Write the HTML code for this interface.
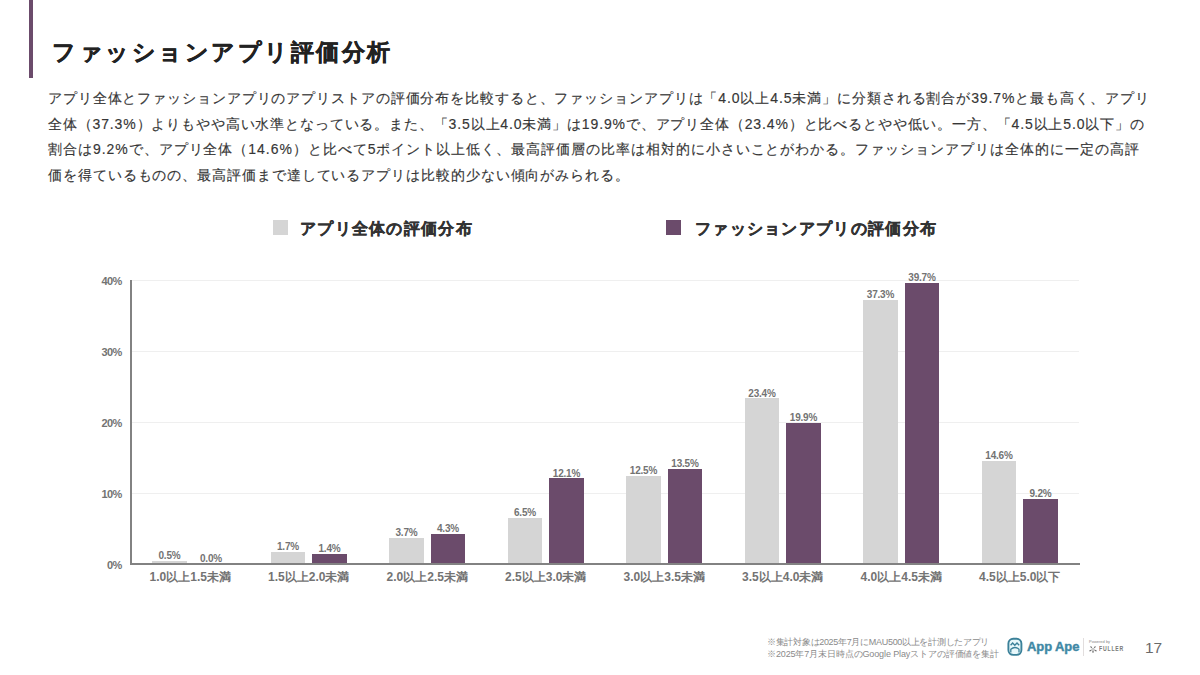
<!DOCTYPE html>
<html lang="ja"><head><meta charset="utf-8"><title>ファッションアプリ評価分析</title>
<style>
html,body{margin:0;padding:0;background:#fff;}
body{width:1200px;height:675px;position:relative;overflow:hidden;font-family:"Liberation Sans",sans-serif;color:#333;}
.abs{position:absolute;}
#accent{position:absolute;left:29px;top:0;width:3.5px;height:77.5px;background:#6b4b6b;}
#title{position:absolute;left:52px;top:35px;font-size:23px;font-weight:bold;letter-spacing:2.5px;color:#222;-webkit-text-stroke:0.45px #222;white-space:nowrap;line-height:34px;}
.pl{position:absolute;left:48px;font-size:14px;line-height:26px;white-space:nowrap;color:#363636;-webkit-text-stroke:0.15px #363636;}
.leg{position:absolute;top:217px;font-size:16px;font-weight:bold;color:#333;white-space:nowrap;line-height:24px;letter-spacing:1.3px;-webkit-text-stroke:0.35px #333;}
.sq{position:absolute;top:220px;width:15px;height:15px;}
.grid{position:absolute;left:132px;width:947px;height:1px;background:#efefef;}
#yaxis{position:absolute;left:130px;top:280px;width:2px;height:285px;background:#828282;}
#xaxis{position:absolute;left:130px;top:563px;width:949.5px;height:2px;background:#828282;}
.ylab{position:absolute;left:80px;width:41.8px;text-align:right;font-size:11px;letter-spacing:-0.6px;font-weight:bold;color:#737373;line-height:14px;}
.bar{position:absolute;width:34.5px;}
.bar.g{background:#d5d5d5;}
.bar.p{background:#6b4b6b;}
.vlab{position:absolute;width:60px;text-align:center;font-size:10px;letter-spacing:-0.2px;font-weight:bold;color:#737373;line-height:12px;}
.xlab{position:absolute;top:569px;width:120px;text-align:center;font-size:12px;font-weight:bold;color:#737373;line-height:16px;white-space:nowrap;}
.foot{position:absolute;left:767px;font-size:9px;color:#8a8a8a;white-space:nowrap;line-height:12px;}
#pnum{position:absolute;left:1145px;top:638px;font-size:15.5px;color:#6a6a6a;line-height:20px;}
</style></head><body>
<div id="accent"></div>
<div id="title">ファッションアプリ評価分析</div>
<div class="pl" style="top:84.8px;letter-spacing:0.896px">アプリ全体とファッションアプリのアプリストアの評価分布を比較すると、ファッションアプリは「4.0以上4.5未満」に分類される割合が39.7%と最も高く、アプリ</div>
<div class="pl" style="top:110.5px;letter-spacing:0.859px">全体（37.3%）よりもやや高い水準となっている。また、「3.5以上4.0未満」は19.9%で、アプリ全体（23.4%）と比べるとやや低い。一方、「4.5以上5.0以下」の</div>
<div class="pl" style="top:136.2px;letter-spacing:0.963px">割合は9.2%で、アプリ全体（14.6%）と比べて5ポイント以上低く、最高評価層の比率は相対的に小さいことがわかる。ファッションアプリは全体的に一定の高評</div>
<div class="pl" style="top:161.9px;letter-spacing:0.921px">価を得ているものの、最高評価まで達しているアプリは比較的少ない傾向がみられる。</div>
<div class="sq" style="left:273px;background:#d5d5d5"></div>
<div class="leg" style="left:300px">アプリ全体の評価分布</div>
<div class="sq" style="left:666px;background:#6b4b6b"></div>
<div class="leg" style="left:695px">ファッションアプリの評価分布</div>
<div class="grid" style="top:492.85px"></div>
<div class="grid" style="top:422.00px"></div>
<div class="grid" style="top:351.15px"></div>
<div class="grid" style="top:280.30px"></div>
<div class="ylab" style="top:557.50px">0%</div>
<div class="ylab" style="top:486.65px">10%</div>
<div class="ylab" style="top:415.80px">20%</div>
<div class="ylab" style="top:344.95px">30%</div>
<div class="ylab" style="top:274.10px">40%</div>
<div class="bar g" style="left:152.25px;top:560.66px;height:3.54px"></div>
<div class="vlab" style="left:139.50px;top:549.86px">0.5%</div>
<div class="vlab" style="left:181.00px;top:553.40px">0.0%</div>
<div class="xlab" style="left:130.25px">1.0以上1.5未満</div>
<div class="bar g" style="left:270.75px;top:552.16px;height:12.04px"></div>
<div class="bar p" style="left:312.25px;top:554.28px;height:9.92px"></div>
<div class="vlab" style="left:258.00px;top:541.36px">1.7%</div>
<div class="vlab" style="left:299.50px;top:543.48px">1.4%</div>
<div class="xlab" style="left:248.75px">1.5以上2.0未満</div>
<div class="bar g" style="left:389.25px;top:537.99px;height:26.21px"></div>
<div class="bar p" style="left:430.75px;top:533.73px;height:30.47px"></div>
<div class="vlab" style="left:376.50px;top:527.19px">3.7%</div>
<div class="vlab" style="left:418.00px;top:522.93px">4.3%</div>
<div class="xlab" style="left:367.25px">2.0以上2.5未満</div>
<div class="bar g" style="left:507.75px;top:518.15px;height:46.05px"></div>
<div class="bar p" style="left:549.25px;top:478.47px;height:85.73px"></div>
<div class="vlab" style="left:495.00px;top:507.35px">6.5%</div>
<div class="vlab" style="left:536.50px;top:467.67px">12.1%</div>
<div class="xlab" style="left:485.75px">2.5以上3.0未満</div>
<div class="bar g" style="left:626.25px;top:475.64px;height:88.56px"></div>
<div class="bar p" style="left:667.75px;top:468.55px;height:95.65px"></div>
<div class="vlab" style="left:613.50px;top:464.84px">12.5%</div>
<div class="vlab" style="left:655.00px;top:457.75px">13.5%</div>
<div class="xlab" style="left:604.25px">3.0以上3.5未満</div>
<div class="bar g" style="left:744.75px;top:398.41px;height:165.79px"></div>
<div class="bar p" style="left:786.25px;top:423.21px;height:140.99px"></div>
<div class="vlab" style="left:732.00px;top:387.61px">23.4%</div>
<div class="vlab" style="left:773.50px;top:412.41px">19.9%</div>
<div class="xlab" style="left:722.75px">3.5以上4.0未満</div>
<div class="bar g" style="left:863.25px;top:299.93px;height:264.27px"></div>
<div class="bar p" style="left:904.75px;top:282.93px;height:281.27px"></div>
<div class="vlab" style="left:850.50px;top:289.13px">37.3%</div>
<div class="vlab" style="left:892.00px;top:272.13px">39.7%</div>
<div class="xlab" style="left:841.25px">4.0以上4.5未満</div>
<div class="bar g" style="left:981.75px;top:460.76px;height:103.44px"></div>
<div class="bar p" style="left:1023.25px;top:499.02px;height:65.18px"></div>
<div class="vlab" style="left:969.00px;top:449.96px">14.6%</div>
<div class="vlab" style="left:1010.50px;top:488.22px">9.2%</div>
<div class="xlab" style="left:959.75px">4.5以上5.0以下</div>
<div id="yaxis"></div>
<div id="xaxis"></div>
<div class="foot" style="top:636px;letter-spacing:-0.3px">※集計対象は2025年7月にMAU500以上を計測したアプリ</div>
<div class="foot" style="top:648px;letter-spacing:-0.12px">※2025年7月末日時点のGoogle Playストアの評価値を集計</div>
<svg style="position:absolute;left:1003px;top:634px" width="24" height="26" viewBox="0 0 24 26">
<rect x="5.4" y="4.7" width="13" height="16.2" rx="4.8" fill="#e8f8fb" stroke="#3b8199" stroke-width="1.9"/>
<path d="M7.6 11.2 L9.6 9 L11.8 11.2 L14 9 L16.2 11.2" fill="none" stroke="#3b8199" stroke-width="1.4"/>
<path d="M7.8 18.5 V15.2 Q11.9 11.8 16 15.2 V18.5" fill="none" stroke="#3b8199" stroke-width="1.3"/>
</svg>
<div class="abs" style="left:1027px;top:638px;font-size:13px;font-weight:bold;color:#4088a5;-webkit-text-stroke:0.4px #4088a5;letter-spacing:-0.1px;line-height:18px;white-space:nowrap;">App Ape</div>
<div class="abs" style="left:1083px;top:638px;width:1px;height:18px;background:#e2dede"></div>
<div class="abs" style="left:1089px;top:639px;font-size:4px;color:#888;line-height:5px;white-space:nowrap;">Powered by</div>
<svg style="position:absolute;left:1088.5px;top:646px" width="8" height="7" viewBox="0 0 10 8"><path d="M5 3.7 L1 0.6 L2.8 0 Z M5 3.7 L9 0.6 L7.2 0 Z M5 3.7 L3.8 7.8 L6.2 7.8 Z M5 3.7 L0.4 5 L1 6.8 Z M5 3.7 L9.6 5 L9 6.8 Z" fill="#6f6f6f"/></svg>
<div class="abs" style="left:1098.5px;top:644px;font-size:7.8px;font-weight:bold;color:#7a7a7a;line-height:10px;white-space:nowrap;letter-spacing:1.2px;transform:scaleX(0.66);transform-origin:0 0;">FULLER</div>
<div id="pnum">17</div>
</body></html>
